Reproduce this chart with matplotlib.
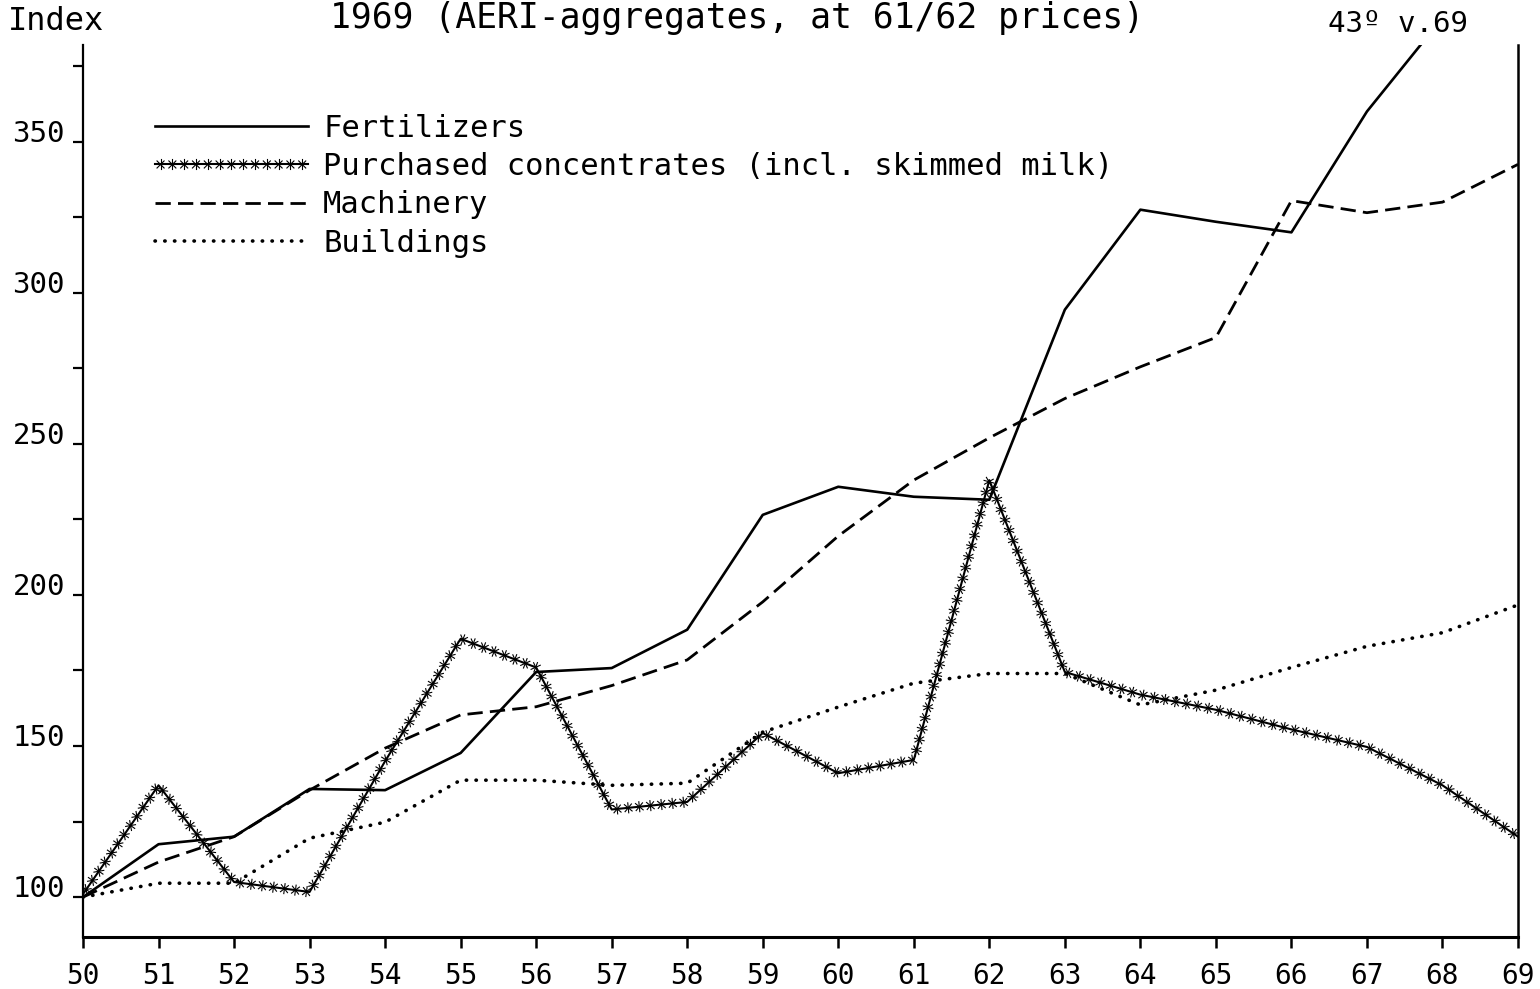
import numpy as np
import matplotlib
matplotlib.use("Agg")
import matplotlib.pyplot as plt
from matplotlib import patheffects

plt.rcParams['font.family'] = ['DejaVu Sans Mono', 'DejaVu Sans']

# index values, 1950 = 100
years = list(range(50, 70))
fertilizers = [100, 117.5, 120, 135.8, 135.4, 147.7, 174.5, 175.8, 188.5, 226.5,
               235.8, 232.5, 231.5, 294.4, 327.5, 323.5, 320, 360, 391, 439]
concentrates = [101, 137, 105, 101.7, 145, 185.5, 176, 129, 131.5, 154.3,
                141, 145.4, 238, 174.5, 167, 162, 155.5, 149.7, 137, 120]
machinery = [100, 111.6, 120, 135.4, 149.3, 160.3, 163, 170, 178.5, 197.7,
             219.5, 238, 252, 265, 275.5, 285.2, 330.5, 326.5, 330, 342.5]
buildings = [100, 104.6, 104.6, 119.5, 124.8, 138.7, 138.7, 137, 137.7, 154.6,
             162.9, 170.8, 174, 174, 163.6, 168.5, 176, 183, 187.5, 196.7]

labels = ["Fertilizers", "Purchased concentrates (incl. skimmed milk)",
          "Machinery", "Buildings"]
y_major = [100, 150, 200, 250, 300, 350]
y_minor = [125, 175, 225, 275, 325, 375]

fig = plt.figure(figsize=(15.4, 9.89), dpi=100)
ax = fig.add_axes([83 / 1540, 52 / 989, 1435 / 1540, 892 / 989])

ax.plot(years, fertilizers, color='black', lw=1.9, label=labels[0])

stars = [patheffects.Normal()]
for a in (45, 90, 135, -45, -90, -135):
    stars.append(patheffects.TickedStroke(spacing=8, angle=a, length=0.45, linewidth=0.8))
ax.plot(years, concentrates, color='black', lw=1.5, label=labels[1], path_effects=stars)

ax.plot(years, machinery, color='black', lw=2.0, linestyle=(0, (5.5, 2.6)), label=labels[2])
ax.plot(years, buildings, color='black', lw=2.6, linestyle=(0, (0.1, 2.6)),
        dash_capstyle='round', label=labels[3])

ax.set_xlim(50, 69)
ax.set_ylim(86.8, 382)
ax.set_xticks(years)
ax.set_xticklabels([str(y) for y in years])
ax.set_yticks(y_major)
ax.set_yticks(y_minor, minor=True)
ax.set_yticklabels([str(v) for v in y_major])

ax.spines['top'].set_visible(False)
ax.spines['left'].set_linewidth(1.6)
ax.spines['right'].set_linewidth(1.8)
ax.spines['bottom'].set_linewidth(2.2)

ax.tick_params(axis='x', direction='out', length=8, width=1.8, pad=10, labelsize=20)
ax.tick_params(axis='y', which='both', direction='out', length=7, width=1.6, pad=6, labelsize=21)
for t in ax.get_yticklabels():
    t.set_verticalalignment('baseline')

ax.legend(loc='upper left', bbox_to_anchor=(155 / 1540, 1 - 114 / 989),
          bbox_transform=fig.transFigure, frameon=False, fontsize=22,
          handlelength=5.0, handletextpad=0.5, labelspacing=0.3,
          borderpad=0, borderaxespad=0)

fig.text(8 / 1540, 1 - 22 / 989, "Index", fontsize=23, va='center', ha='left')
fig.text(330 / 1540, 1 - 18 / 989, "1969 (AERI-aggregates, at 61/62 prices)",
         fontsize=25, va='center', ha='left')
fig.text(1328 / 1540, 1 - 24 / 989, "43º v.69", fontsize=21, va='center', ha='left')

fig.savefig("out.png", dpi=100, facecolor='white')
